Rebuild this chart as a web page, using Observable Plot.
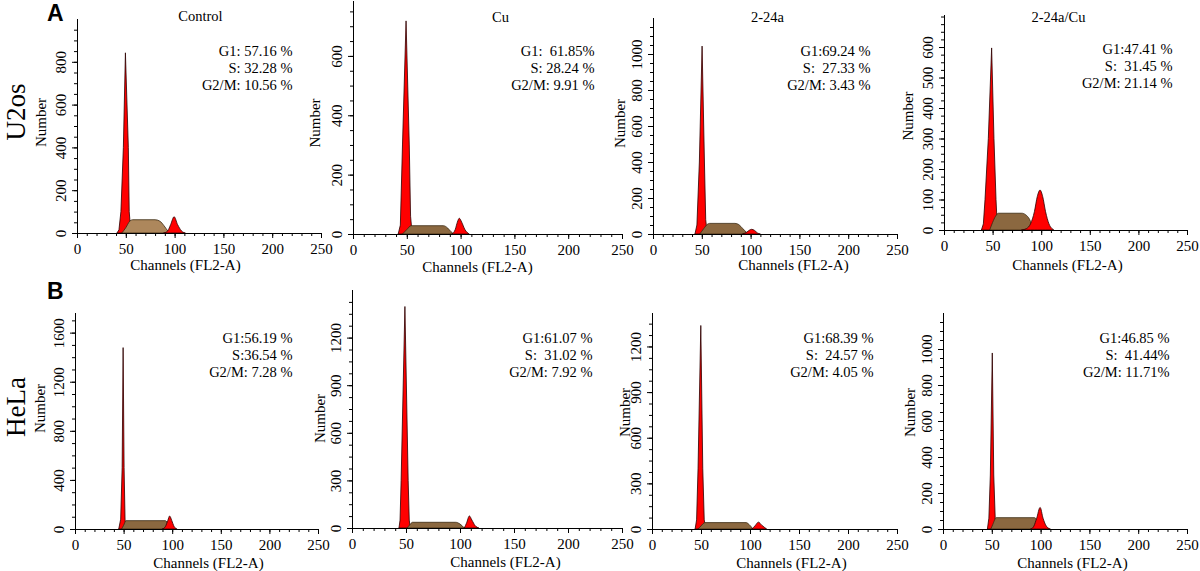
<!DOCTYPE html>
<html><head><meta charset="utf-8">
<script src="https://cdn.jsdelivr.net/npm/d3@7"></script>
<script src="https://cdn.jsdelivr.net/npm/@observablehq/plot@0.6"></script>
<style>
body{margin:0;background:#fff;}
#fig{position:relative;width:1200px;height:571px;overflow:hidden;background:#fff;}
.pan{position:absolute;}
#overlay{position:absolute;left:0;top:0;}
</style></head><body><div id="fig"></div>
<script>
// ---------- data ----------
const treatments = ["Control", "Cu", "2-24a", "2-24a/Cu"];
const cellLines = ["U2os", "HeLa"];
const panelLetters = ["A", "B"];
const xAxisLabel = "Channels (FL2-A)";
const yAxisLabel = "Number";
const xTickValues = [0, 50, 100, 150, 200, 250];

const g1Text = ["G1: 57.16 %", "G1:\u00a0 61.85%", "G1:69.24 %", "G1:47.41 %",
                "G1:56.19 %", "G1:61.07 %", "G1:68.39 %", "G1:46.85 %"];
const sText  = ["S: 32.28 %", "S: 28.24 %", "S:\u00a0 27.33 %", "S:\u00a0 31.45 %",
                "S:36.54 %", "S:\u00a0 31.02 %", "S:\u00a0 24.57 %", "S:\u00a0 41.44%"];
const g2Text = ["G2/M: 10.56 %", "G2/M: 9.91 %", "G2/M: 3.43 %", "G2/M: 21.14 %",
                "G2/M: 7.28 %", "G2/M: 7.92 %", "G2/M: 4.05 %", "G2/M: 11.71%"];

const yMax      = [1000, 785, 1200, 705, 1760, 1500, 1420, 1200];
const yStep     = [200, 200, 200, 100, 400, 300, 300, 200];
const yTickLast = [800, 600, 1000, 600, 1600, 1200, 1200, 1000];

// [channel, count] outline points of each fitted component
const g1Curves = [
  [[41,0],[43,15],[45,100],[47.5,400],[49.6,842],[52.6,400],[53.5,100],[55,15],[56,0]],
  [[42,0],[44,30],[46,300],[49.3,718],[52.3,300],[53.5,60],[55,0]],
  [[43,0],[45,50],[47.5,400],[50.3,1044],[52.7,400],[54,80],[55.6,0]],
  [[38.5,0],[40.5,20],[42.2,100],[45.6,300],[49,597],[51.4,300],[53.5,100],[55,0]],
  [[45,0],[47,80],[48.5,500],[49.5,1478],[50.5,500],[51.5,80],[52.5,0]],
  [[43.5,0],[44.5,50],[45.5,300],[49,1396],[52,300],[53,50],[54,0]],
  [[44,0],[45.5,60],[47,400],[49.8,1338],[51.8,400],[53.3,60],[55,0]],
  [[45.5,0],[47,60],[48.5,300],[50.5,978],[52,300],[53.5,60],[55,0]]
];
const sCurves = [
  [[46,0],[50,25],[54,55],[57,62],[80,62],[85,55],[89,35],[93,10],[95,0]],
  [[46,0],[50,15],[54,28],[84,28],[88,20],[91,8],[94,0]],
  [[48,0],[52,30],[56,55],[58,59],[84,59],[88,52],[92,30],[96,8],[98,0]],
  [[47,0],[50,25],[53,45],[56,55],[80,55],[84,50],[88,35],[92,0]],
  [[48,0],[50,30],[52.5,68],[93,68],[96,40],[100,0]],
  [[51,0],[53.5,20],[56,36],[96,36],[100,25],[104,0]],
  [[47,0],[50,20],[54,42],[96,42],[99,30],[103,0]],
  [[49,0],[51,25],[54.5,63],[94,63],[97,40],[101,0]]
];
const g2Curves = [
  [[89,0],[93,10],[96,40],[99.5,76],[103,40],[107,10],[111,0]],
  [[92,0],[95,15],[97,40],[98.8,53],[101,40],[104,15],[108,0]],
  [[92,0],[96,10],[99,22],[101,26],[104,20],[107,6],[110,0]],
  [[80,0],[85,5],[89,20],[93,60],[96,110],[98.8,131],[101.5,110],[104.5,60],[108,20],[111,5],[113,0]],
  [[90,0],[93,20],[95.5,70],[97.4,106],[99.5,70],[102,20],[105,0]],
  [[104,0],[106,30],[108.7,76],[111,50],[114,15],[117.5,0]],
  [[102,0],[105,20],[108.6,45],[112,25],[117,0]],
  [[90,0],[93,15],[96,60],[99.5,120],[102.5,60],[106,15],[110,0]]
];

// ---------- layout (pixels) ----------
const rows = [{top: 0, h: 280}, {top: 280, h: 291}];
const layout = [
  {x0:77,  w:244, base:233, top:19,  title:[123,-3], stats:[-29,48], num:[-36,-4], xl:[108,32]},
  {x0:353, w:269, base:234, top:1,   title:[147,16], stats:[-28,66], num:[-38,5],  xl:[124,33]},
  {x0:653, w:244, base:234, top:18,  title:[114,-1], stats:[-27,49], num:[-33,-3], xl:[140,31]},
  {x0:944, w:243, base:230, top:15,  title:[114,2],  stats:[-15,50], num:[-36,-7], xl:[123,35]},
  {x0:75,  w:243, base:529, top:313, title:null,     stats:[-26,41], num:[-35,-13],xl:[133,34]},
  {x0:352, w:270, base:528, top:290, title:null,     stats:[-30,64], num:[-32,9],  xl:[153,34]},
  {x0:652, w:245, base:529, top:313, title:null,     stats:[-24,41], num:[-27,-9], xl:[139,34]},
  {x0:943, w:244, base:529, top:313, title:null,     stats:[-18,41], num:[-33,-9], xl:[129,34]}
];
const RED = "#ff0000", BROWN = "#8b6840", BROWN_LIGHT = "#ad875c";
const SERIF = "'Liberation Serif', 'Times New Roman', Times, serif";
const fig = document.getElementById("fig");
const ML = 55, MR = 16;

layout.forEach((L, i) => {
  const r = rows[Math.floor(i / 4)];
  const marks = [
    Plot.areaY(g1Curves[i], {x: d => d[0], y: d => d[1], fill: RED, stroke: "#2a0000", strokeWidth: 0.8, curve: "linear"}),
    Plot.areaY(sCurves[i], {x: d => d[0], y: d => d[1], fill: i === 0 ? BROWN_LIGHT : BROWN, stroke: "#3a2810", strokeWidth: 0.8, curve: "monotone-x"}),
    Plot.areaY(g2Curves[i], {x: d => d[0], y: d => d[1], fill: RED, stroke: "#2a0000", strokeWidth: 0.8, curve: "monotone-x"}),
    Plot.ruleY([0], {stroke: "#000", strokeWidth: 1}),
    Plot.ruleX([0], {stroke: "#000", strokeWidth: 1}),
    Plot.axisX({ticks: d3.range(0, 251, 10), tickSize: 3, tickFormat: () => "", label: null}),
    Plot.axisX({ticks: xTickValues, tickSize: 5, tickPadding: 5, tickFormat: d => String(d), label: null, fontSize: 15}),
    Plot.axisY({ticks: d3.range(0, yMax[i], yStep[i] / 4), tickSize: 3, tickFormat: () => "", label: null}),
    Plot.axisY({ticks: d3.range(0, yTickLast[i] + 1, yStep[i]), tickSize: 5, tickPadding: 7, tickRotate: -90, tickFormat: d => String(d), label: null, fontSize: 15}),
    Plot.text([yAxisLabel], {frameAnchor: "left", rotate: -90, dx: L.num[0], dy: L.num[1], fontSize: 15, textAnchor: "middle", lineAnchor: "middle"}),
    Plot.text([xAxisLabel], {frameAnchor: "bottom-left", dx: L.xl[0], dy: L.xl[1], fontSize: 15, textAnchor: "middle", lineAnchor: "middle"}),
    Plot.text([g1Text[i] + "\n" + sText[i] + "\n" + g2Text[i]], {frameAnchor: "top-right", dx: L.stats[0], dy: L.stats[1], textAnchor: "end", lineAnchor: "middle", lineHeight: 1.15, fontSize: 14.5})
  ];
  if (L.title) marks.push(Plot.text([treatments[i % 4]], {frameAnchor: "top-left", dx: L.title[0], dy: L.title[1], textAnchor: "middle", lineAnchor: "middle", fontSize: 14.5}));
  const width = ML + L.w + MR;
  const chart = Plot.plot({
    width, height: r.h,
    marginLeft: ML, marginRight: MR,
    marginTop: L.top - r.top, marginBottom: r.top + r.h - L.base,
    x: {domain: [0, 250]},
    y: {domain: [0, yMax[i]]},
    style: {background: "none", overflow: "visible", color: "#000"},
    marks
  });
  chart.classList.add("pan");
  chart.style.left = (L.x0 - ML) + "px";
  chart.style.top = r.top + "px";
  chart.style.maxWidth = "none";
  chart.style.fontFamily = SERIF;
  chart.setAttribute("font-family", SERIF);
  d3.select(chart).selectAll("g, text").attr("font-family", null).style("font-family", SERIF);
  fig.appendChild(chart);
});

// row labels and panel letters in an overlay SVG
const NS = "http://www.w3.org/2000/svg";
const ov = document.createElementNS(NS, "svg");
ov.setAttribute("id", "overlay");
ov.setAttribute("width", 1200); ov.setAttribute("height", 571);
fig.appendChild(ov);
const rowCenters = [[24.5, 112], [24.5, 407]];
cellLines.forEach((name, k) => {
  const t = document.createElementNS(NS, "text");
  t.textContent = name;
  t.setAttribute("transform", `translate(${rowCenters[k][0]},${rowCenters[k][1]}) rotate(-90)`);
  t.setAttribute("text-anchor", "middle");
  t.style.fontFamily = SERIF;
  t.setAttribute("font-size", 27);
  ov.appendChild(t);
});
const letterBase = [21, 299];
panelLetters.forEach((s, k) => {
  const t = document.createElementNS(NS, "text");
  t.textContent = s;
  t.setAttribute("x", 47); t.setAttribute("y", letterBase[k]);
  t.style.fontFamily = "'Liberation Sans', Arial, sans-serif";
  t.setAttribute("font-weight", "bold");
  t.setAttribute("font-size", 23);
  ov.appendChild(t);
});
</script></body></html>
